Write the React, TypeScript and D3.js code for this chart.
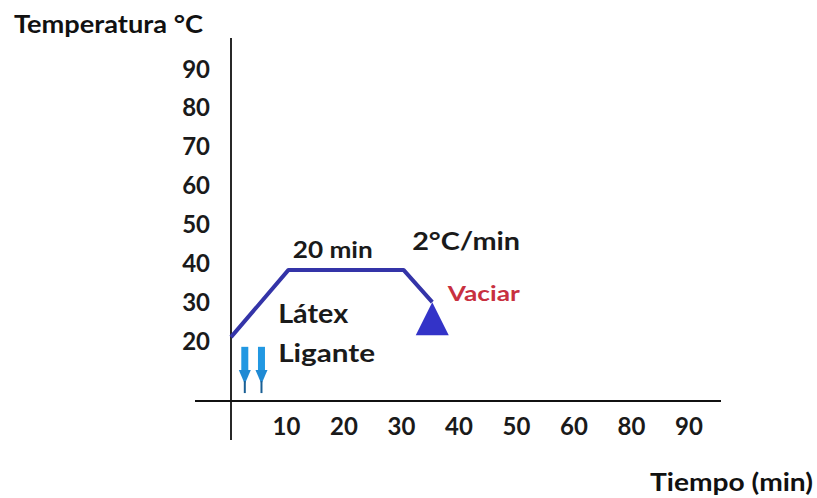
import { useMemo } from 'react';
import * as d3 from 'd3';

// --- data ---
const yTickValues = [20, 30, 40, 50, 60, 70, 80, 90];
const xTickValues = [10, 20, 30, 40, 50, 60, 70, 80];
const xTickLabels = ['10', '20', '30', '40', '50', '60', '80', '90'];

// temperature profile: [minutes, °C]
const profileTime = [0, 10, 30, 35];
const profileTemp = [21, 38.3, 38.3, 30];

// where latex / binder are added (minutes)
const additionTimes = [2.4, 5.3];

interface Note {
  text: string;
  t: number;
  temp: number;
  anchor: 'start' | 'middle';
  size: number;
  width: number;
  color: string;
}

// annotation texts, anchored in data units (baseline)
const notes: Note[] = [
  { text: '20 min', t: 17.7, temp: 41.4, anchor: 'middle', size: 22, width: 80, color: '#1a1a1a' },
  { text: '2°C/min', t: 31.5, temp: 43.4, anchor: 'start', size: 24, width: 108, color: '#1a1a1a' },
  { text: 'Vaciar', t: 37.7, temp: 30.3, anchor: 'start', size: 21, width: 72, color: '#c8303f' },
  { text: 'Látex', t: 8.2, temp: 24.6, anchor: 'start', size: 26, width: 70, color: '#1a1a1a' },
  { text: 'Ligante', t: 8.2, temp: 14.6, anchor: 'start', size: 25, width: 97, color: '#1a1a1a' },
];

const W = 817;
const H = 498;
const FONT = 'Lato, "Open Sans", sans-serif';

export default function App() {
  const x = useMemo(() => d3.scaleLinear().domain([0, 90]).range([231, 748.5]), []);
  const y = useMemo(() => d3.scaleLinear().domain([20, 90]).range([341, 69]), []);

  const axisY = 401;
  const line = d3
    .line<number>()
    .x((_, i) => x(profileTime[i]))
    .y((_, i) => y(profileTemp[i]));

  const last = profileTime.length - 1;
  const tipX = x(profileTime[last]);
  const tipY = y(profileTemp[last]);
  const tri = `M${tipX},${tipY} L${tipX + 16.5},${tipY + 33} L${tipX - 16.5},${tipY + 33} Z`;

  return (
    <svg width={W} height={H} style={{ position: 'absolute', left: 0, top: 0, background: '#fff' }} fontFamily={FONT}>
      {/* axes */}
      <line x1={x(0)} x2={x(0)} y1={38} y2={440} stroke="#111" strokeWidth={1.8} />
      <line x1={195} x2={721} y1={axisY} y2={axisY} stroke="#111" strokeWidth={1.8} />

      <text x={14} y={33} fontSize={24} fontWeight={700} fill="#111" textLength={189} lengthAdjust="spacingAndGlyphs">
        Temperatura °C
      </text>
      <text x={650} y={491} fontSize={24} fontWeight={700} fill="#111" textLength={163} lengthAdjust="spacingAndGlyphs">
        Tiempo (min)
      </text>

      {yTickValues.map((v) => (
        <text key={v} x={210} y={y(v)} dy="0.36em" textAnchor="end" fontSize={24} fontWeight={700} fill="#1a1a1a">
          {v}
        </text>
      ))}
      {xTickValues.map((v, i) => (
        <text key={v} x={x(v) - 2} y={435} textAnchor="middle" fontSize={24} fontWeight={700} fill="#1a1a1a">
          {xTickLabels[i]}
        </text>
      ))}

      {/* profile */}
      <path d={line(profileTime) ?? ''} fill="none" stroke="#3434a8" strokeWidth={4} strokeLinejoin="round" />
      <path d={tri} fill="#3333c8" />

      {/* addition arrows */}
      {additionTimes.map((t) => {
        const cx = x(t);
        const top = y(18.5);
        const bot = y(6.6);
        return (
          <g key={t}>
            <rect x={cx - 3.5} y={top} width={7} height={bot - top - 20} fill="#2298e2" />
            <path d={`M${cx - 6},${bot - 23} L${cx + 6},${bot - 23} L${cx},${bot - 9} Z`} fill="#1f8ad4" />
            <rect x={cx - 1} y={bot - 12} width={2} height={12} fill="#1a5f94" />
          </g>
        );
      })}

      {notes.map((n) => (
        <text
          key={n.text}
          x={x(n.t)}
          y={y(n.temp)}
          textAnchor={n.anchor}
          fontSize={n.size}
          fontWeight={700}
          fill={n.color}
          textLength={n.width}
          lengthAdjust="spacingAndGlyphs"
        >
          {n.text}
        </text>
      ))}
    </svg>
  );
}
